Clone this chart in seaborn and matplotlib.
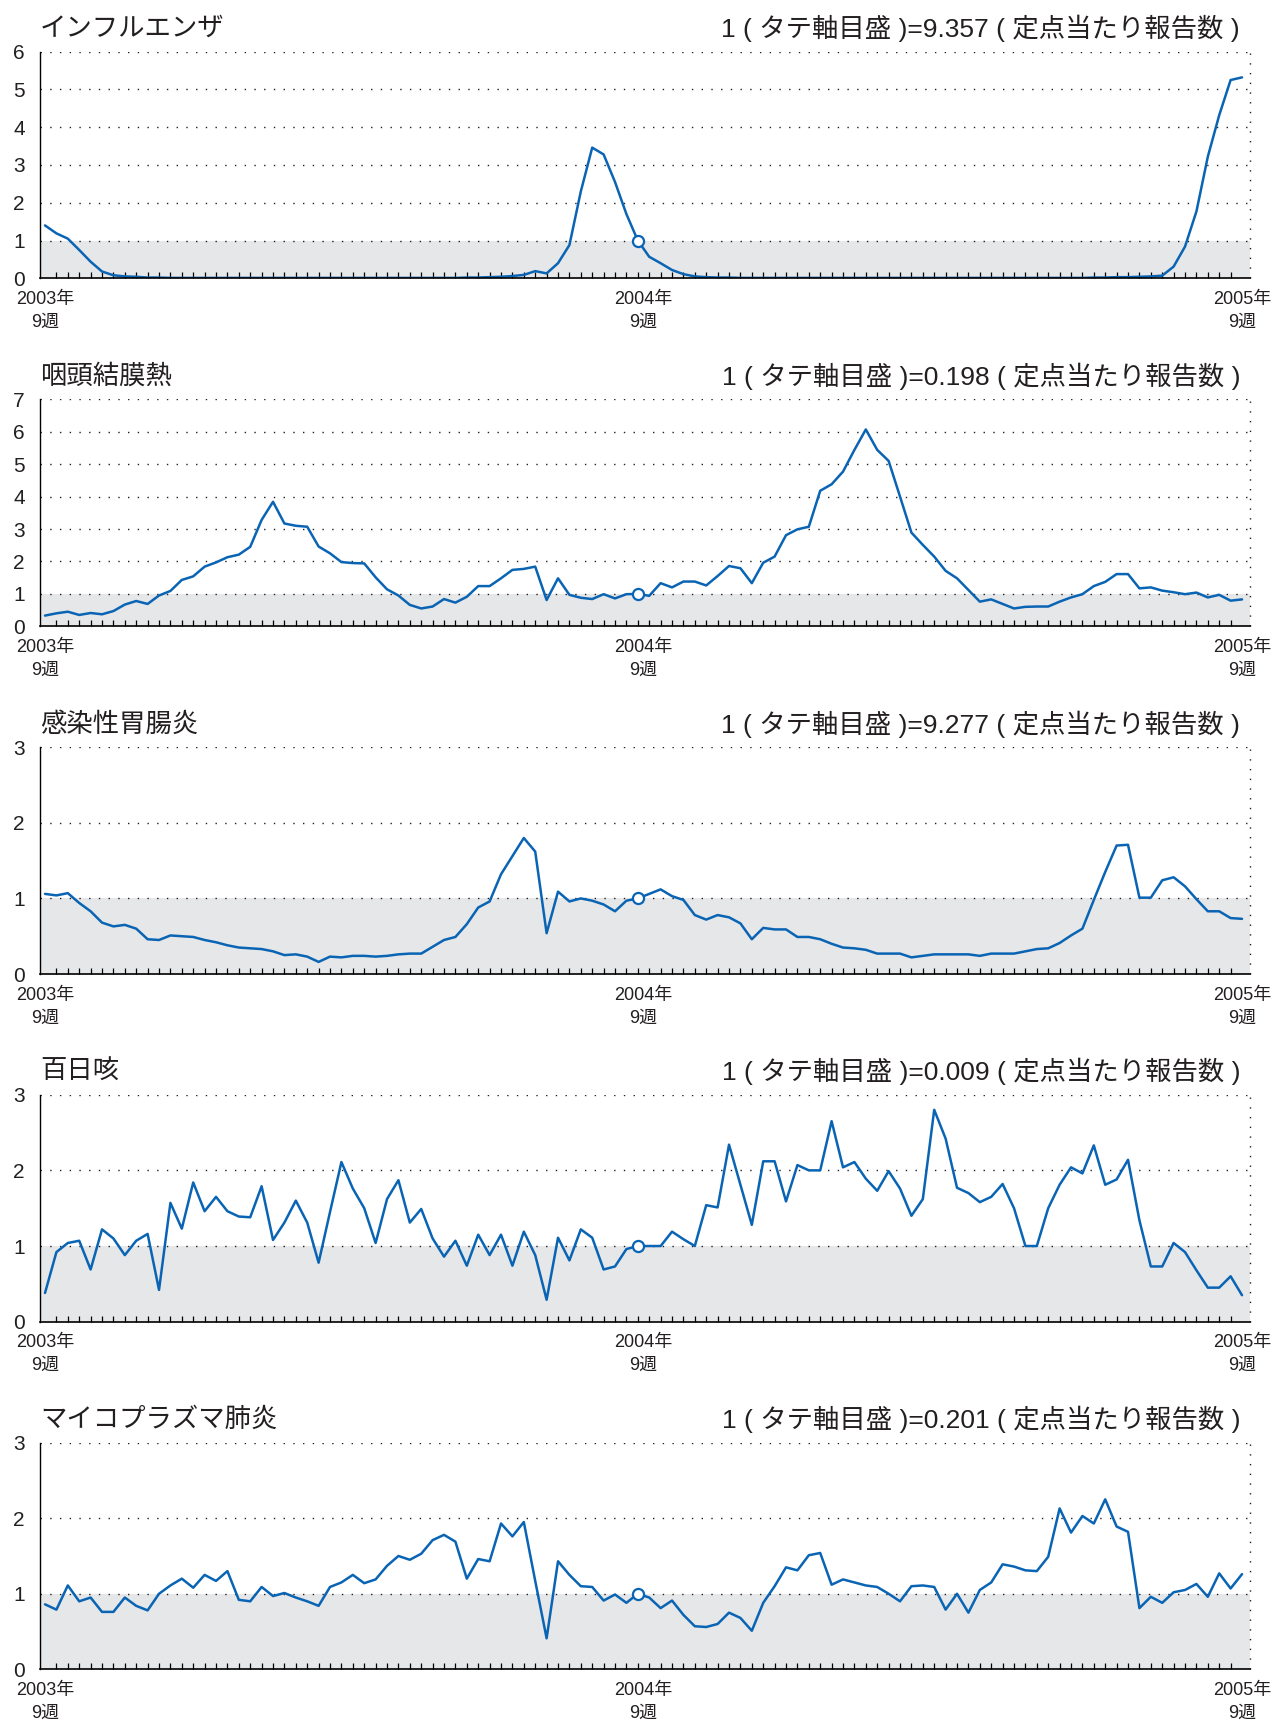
import matplotlib
matplotlib.use("Agg")
import matplotlib.pyplot as plt
import pandas as pd
import seaborn as sns

sns.set_theme(style="white")
plt.rcParams["font.family"] = ["Liberation Sans", "Noto Sans CJK JP", "DejaVu Sans"]

# Weekly index: 2003 week 9 (0) .. 2004 week 9 (52) .. 2005 week 9 (105)
weeks = list(range(106))
base_week = 52
label_positions = [0, 52.45, 105]
tick_labels = ["2003年\n9週", "2004年\n9週", "2005年\n9週"]

titles = ["インフルエンザ", "咽頭結膜熱", "感染性胃腸炎", "百日咳", "マイコプラズマ肺炎"]
scale_values = ["9.357", "0.198", "9.277", "0.009", "0.201"]
y_max = [6, 7, 3, 3, 3]

influenza = [
    1.40, 1.19, 1.05, 0.75, 0.44, 0.18, 0.08, 0.05, 0.04, 0.02,
    0.02, 0.01, 0.01, 0.01, 0.01, 0.01, 0.01, 0.01, 0.01, 0.01,
    0.01, 0.01, 0.01, 0.01, 0.01, 0.01, 0.01, 0.01, 0.01, 0.01,
    0.01, 0.01, 0.01, 0.01, 0.01, 0.01, 0.01, 0.02, 0.02, 0.03,
    0.04, 0.06, 0.09, 0.19, 0.13, 0.40, 0.88, 2.30, 3.46, 3.28,
    2.55, 1.70, 1.00, 0.57, 0.40, 0.22, 0.11, 0.05, 0.03, 0.02,
    0.02, 0.01, 0.01, 0.01, 0.01, 0.01, 0.01, 0.01, 0.01, 0.01,
    0.01, 0.01, 0.01, 0.01, 0.01, 0.01, 0.01, 0.01, 0.01, 0.01,
    0.01, 0.01, 0.01, 0.01, 0.01, 0.01, 0.01, 0.01, 0.01, 0.01,
    0.01, 0.01, 0.02, 0.02, 0.03, 0.03, 0.04, 0.05, 0.07, 0.31,
    0.84, 1.77, 3.22, 4.32, 5.25, 5.32,
]

pharyngoconjunctival = [
    0.33, 0.40, 0.45, 0.35, 0.41, 0.37, 0.47, 0.67, 0.78, 0.69,
    0.95, 1.09, 1.43, 1.54, 1.84, 1.97, 2.13, 2.21, 2.45, 3.28,
    3.84, 3.17, 3.10, 3.07, 2.46, 2.25, 1.98, 1.95, 1.94, 1.51,
    1.14, 0.95, 0.66, 0.55, 0.61, 0.84, 0.73, 0.91, 1.24, 1.24,
    1.48, 1.74, 1.77, 1.84, 0.81, 1.48, 0.97, 0.88, 0.84, 0.99,
    0.86, 0.99, 1.00, 0.94, 1.33, 1.20, 1.38, 1.38, 1.26, 1.55,
    1.86, 1.79, 1.33, 1.96, 2.15, 2.81, 2.99, 3.07, 4.18, 4.38,
    4.77, 5.44, 6.07, 5.44, 5.10, 4.00, 2.89, 2.51, 2.15, 1.71,
    1.48, 1.12, 0.76, 0.83, 0.69, 0.55, 0.60, 0.61, 0.61, 0.76,
    0.89, 0.99, 1.24, 1.37, 1.61, 1.61, 1.17, 1.20, 1.10, 1.05,
    0.99, 1.04, 0.89, 0.97, 0.79, 0.83,
]

gastroenteritis = [
    1.06, 1.04, 1.07, 0.94, 0.83, 0.68, 0.63, 0.65, 0.60, 0.46,
    0.45, 0.51, 0.50, 0.49, 0.45, 0.42, 0.38, 0.35, 0.34, 0.33,
    0.30, 0.25, 0.26, 0.23, 0.16, 0.23, 0.22, 0.24, 0.24, 0.23,
    0.24, 0.26, 0.27, 0.27, 0.36, 0.45, 0.49, 0.66, 0.88, 0.96,
    1.32, 1.56, 1.80, 1.62, 0.54, 1.09, 0.96, 1.00, 0.97, 0.92,
    0.83, 0.97, 1.00, 1.06, 1.12, 1.03, 0.98, 0.78, 0.72, 0.78,
    0.75, 0.67, 0.46, 0.61, 0.59, 0.59, 0.49, 0.49, 0.46, 0.40,
    0.35, 0.34, 0.32, 0.27, 0.27, 0.27, 0.22, 0.24, 0.26, 0.26,
    0.26, 0.26, 0.24, 0.27, 0.27, 0.27, 0.30, 0.33, 0.34, 0.41,
    0.51, 0.60, 0.98, 1.35, 1.70, 1.71, 1.01, 1.01, 1.24, 1.28,
    1.16, 0.99, 0.83, 0.83, 0.74, 0.73,
]

pertussis = [
    0.38, 0.92, 1.04, 1.07, 0.69, 1.22, 1.10, 0.88, 1.07, 1.16,
    0.42, 1.57, 1.23, 1.84, 1.46, 1.65, 1.46, 1.39, 1.38, 1.79,
    1.08, 1.31, 1.60, 1.31, 0.78, 1.45, 2.11, 1.76, 1.50, 1.04,
    1.62, 1.87, 1.31, 1.49, 1.10, 0.86, 1.07, 0.74, 1.15, 0.88,
    1.15, 0.74, 1.19, 0.88, 0.29, 1.11, 0.81, 1.22, 1.11, 0.69,
    0.73, 0.96, 1.00, 1.00, 1.00, 1.19, 1.09, 1.00, 1.54, 1.51,
    2.34, 1.81, 1.28, 2.12, 2.12, 1.59, 2.07, 2.00, 2.00, 2.65,
    2.04, 2.11, 1.89, 1.73, 1.99, 1.76, 1.40, 1.62, 2.80, 2.42,
    1.77, 1.70, 1.58, 1.65, 1.82, 1.50, 1.00, 1.00, 1.50, 1.81,
    2.04, 1.96, 2.33, 1.81, 1.88, 2.14, 1.34, 0.73, 0.73, 1.04,
    0.92, 0.68, 0.45, 0.45, 0.60, 0.35,
]

mycoplasma = [
    0.86, 0.79, 1.11, 0.90, 0.95, 0.76, 0.76, 0.95, 0.84, 0.78,
    1.00, 1.11, 1.20, 1.08, 1.25, 1.17, 1.30, 0.92, 0.90, 1.09,
    0.97, 1.01, 0.95, 0.90, 0.84, 1.09, 1.15, 1.25, 1.14, 1.19,
    1.37, 1.50, 1.45, 1.53, 1.71, 1.78, 1.69, 1.20, 1.46, 1.43,
    1.93, 1.76, 1.95, 1.17, 0.41, 1.43, 1.25, 1.10, 1.09, 0.91,
    0.99, 0.88, 1.00, 0.95, 0.81, 0.91, 0.72, 0.57, 0.56, 0.60,
    0.75, 0.68, 0.51, 0.88, 1.10, 1.35, 1.31, 1.51, 1.54, 1.12,
    1.19, 1.15, 1.11, 1.09, 1.00, 0.90, 1.10, 1.11, 1.09, 0.79,
    1.00, 0.75, 1.05, 1.15, 1.39, 1.36, 1.31, 1.30, 1.49, 2.13,
    1.81, 2.03, 1.93, 2.25, 1.89, 1.82, 0.81, 0.96, 0.88, 1.02,
    1.05, 1.13, 0.96, 1.27, 1.07, 1.26,
]

series = [influenza, pharyngoconjunctival, gastroenteritis, pertussis, mycoplasma]

LINE = "#0a64b4"
TEXT = "#231f20"
SHADE = "#e6e7e9"
DOTS = (0, (1, 6))

W, H = 1271, 1721
fig = plt.figure(figsize=(W / 100, H / 100), dpi=100)

left_px, right_px = 40, 1250
tops = [51.7, 399.3, 747.3, 1094.7, 1442.7]
bottoms = [278.3, 626.3, 974.0, 1321.7, 1669.3]
x_lo, x_hi = -0.44, 105.7

for i, (title, scale, ymax, vals) in enumerate(zip(titles, scale_values, y_max, series)):
    ax = fig.add_axes([left_px / W, 1 - bottoms[i] / H,
                       (right_px - left_px) / W, (bottoms[i] - tops[i]) / H])
    ax.set_xlim(x_lo, x_hi)
    ax.set_ylim(0, ymax)

    # shaded band below the baseline level (1 = value at 2004 week 9)
    ax.axhspan(0, 1, color=SHADE, lw=0, zorder=0)
    for yv in range(1, ymax + 1):
        ax.axhline(yv, color=TEXT, lw=1.0, ls=DOTS, zorder=1)
    ax.axvline(x_hi, color=TEXT, lw=1.0, ls=DOTS, zorder=1, clip_on=False)

    df = pd.DataFrame({"week": weeks, "value": vals})
    sns.lineplot(data=df, x="week", y="value", ax=ax, color=LINE,
                 linewidth=1.8, zorder=3)
    sns.scatterplot(data=df.iloc[[base_week]], x="week", y="value", ax=ax,
                    s=64, facecolor="white", edgecolor=LINE, linewidth=1.6,
                    zorder=4, legend=False)

    ax.set_xlabel("")
    ax.set_ylabel("")
    # year labels (no marks); weekly marks drawn as minor ticks
    ax.set_xticks(label_positions)
    ax.set_xticklabels(tick_labels, linespacing=1.45)
    ax.set_xticks(weeks, minor=True)
    ax.set_yticks(range(0, ymax + 1))
    ax.tick_params(axis="x", which="minor", direction="in", length=4.5,
                   width=0.9, color="black", bottom=True)
    ax.tick_params(axis="x", which="major", direction="in", length=0,
                   bottom=True, labelsize=13, labelcolor=TEXT, pad=9)
    ax.tick_params(axis="y", length=0, pad=11, labelsize=15, labelcolor=TEXT)

    for side in ("top", "right"):
        ax.spines[side].set_visible(False)
    ax.spines["left"].set_color("black")
    ax.spines["left"].set_linewidth(1.0)
    ax.spines["bottom"].set_color("black")
    ax.spines["bottom"].set_linewidth(1.2)
    ax.spines["bottom"].set_zorder(5)

    ty = 1 - (tops[i] - 23) / H
    fig.text(left_px / W, ty, title, fontsize=19, color=TEXT,
             ha="left", va="center")
    fig.text(1240 / W, ty, f"1 ( タテ軸目盛 )={scale} ( 定点当たり報告数 )",
             fontsize=19, color=TEXT, ha="right", va="center")

fig.savefig("out.png", dpi=100)
